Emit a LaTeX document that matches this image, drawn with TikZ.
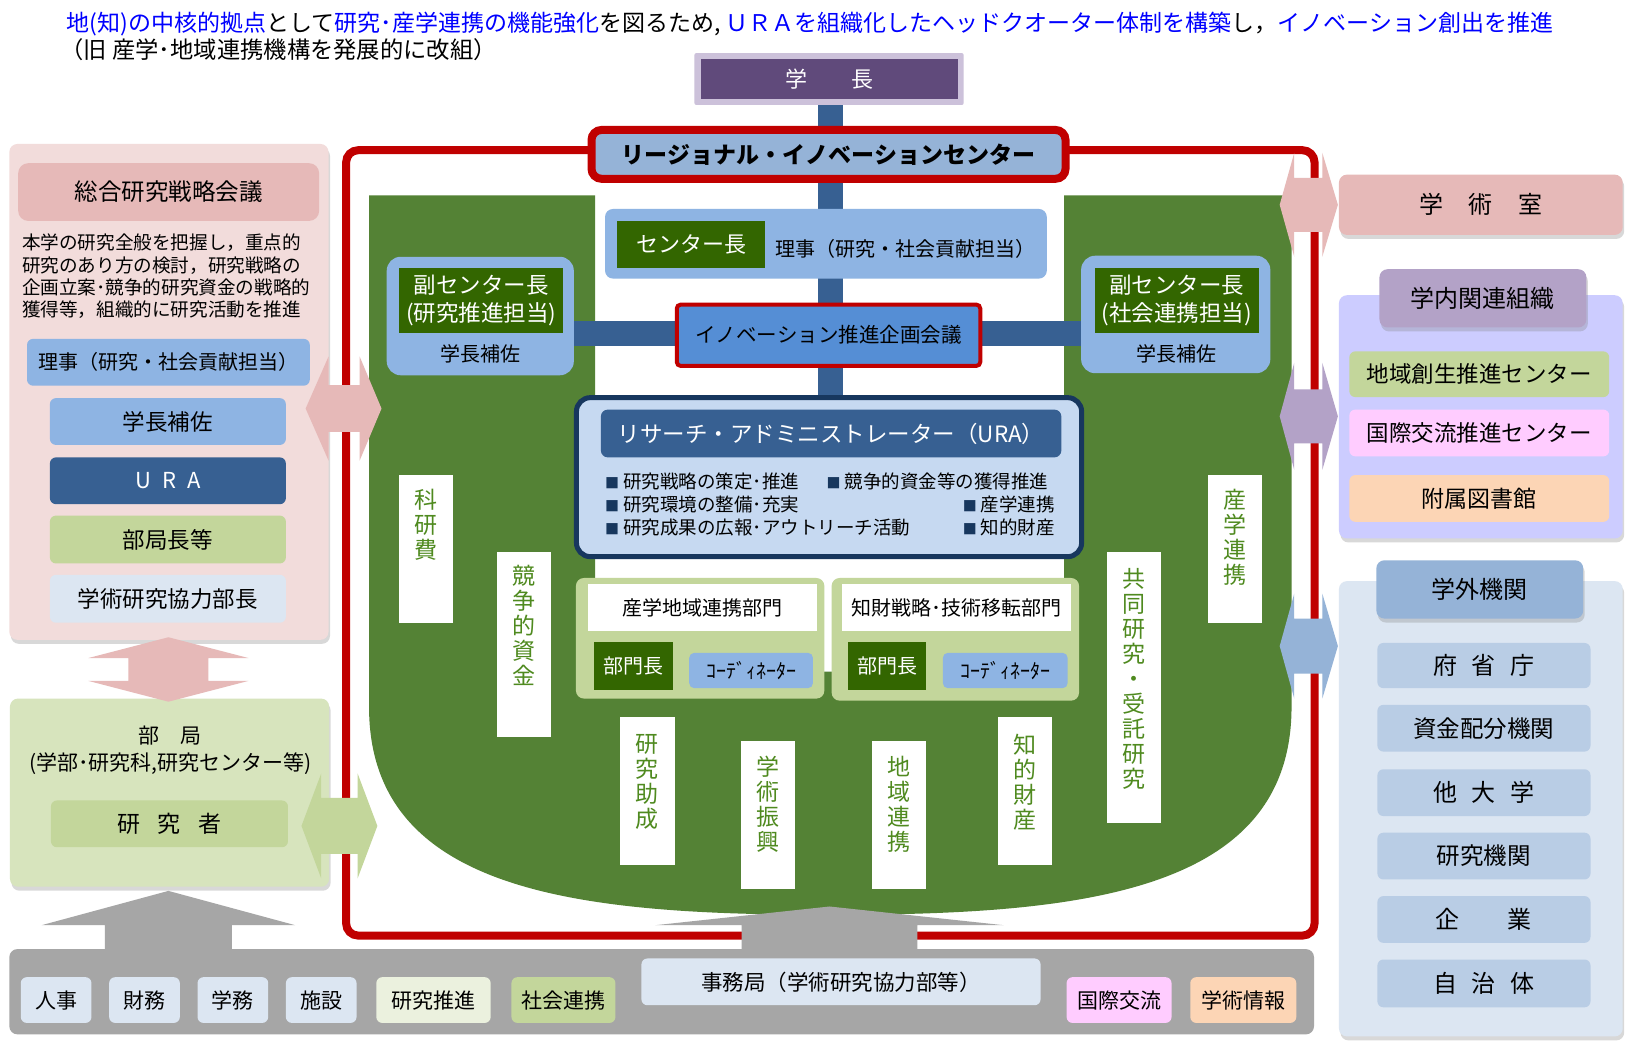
\documentclass[tikz,border=0pt]{standalone}
\usepackage{fontspec}
\setmainfont{Noto Sans CJK JP}
\usetikzlibrary{positioning, shadows}
\definecolor{tblue}{HTML}{0000FF}
\definecolor{lavender}{HTML}{CCC1DA}
\definecolor{presviolet}{HTML}{604A7B}
\definecolor{frred}{HTML}{C00000}
\definecolor{rcfill}{HTML}{95B3D7}
\definecolor{lblue}{HTML}{8EB4E3}
\definecolor{inofill}{HTML}{558ED5}
\definecolor{urafill}{HTML}{C6D9F1}
\definecolor{navy}{HTML}{17375E}
\definecolor{barblue}{HTML}{376092}
\definecolor{dgreen}{HTML}{336600}
\definecolor{ugreen}{HTML}{548235}
\definecolor{labgreen}{HTML}{4F8A1F}
\definecolor{lgreen}{HTML}{C3D69B}
\definecolor{bgreen}{HTML}{D7E4BD}
\definecolor{palegreen}{HTML}{EBF1DE}
\definecolor{pinkpanel}{HTML}{F2DCDB}
\definecolor{pinkhead}{HTML}{E6B9B8}
\definecolor{paleblue}{HTML}{DCE6F2}
\definecolor{midblue}{HTML}{95B3D7}
\definecolor{extitem}{HTML}{B9CDE5}
\definecolor{lilac}{HTML}{CCCCFF}
\definecolor{lilachead}{HTML}{B3A2C7}
\definecolor{pinkcell}{HTML}{FFCCFF}
\definecolor{peach}{HTML}{FCD5B5}
\definecolor{barsgray}{HTML}{A6A6A6}

\newcommand{\fsz}[1]{\fontsize{#1pt}{#1pt}\selectfont}
\newcommand{\hdblarrow}[8]{\fill[#8] (#1,#5) -- (#2,#5-#6) -- (#2,#5-#7) -- (#3,#5-#7) -- (#3,#5-#6) -- (#4,#5) -- (#3,#5+#6) -- (#3,#5+#7) -- (#2,#5+#7) -- (#2,#5+#6) -- cycle;}
\newcommand{\vdblarrow}[8]{\fill[#8] (#5,#1) -- (#5+#6,#2) -- (#5+#7,#2) -- (#5+#7,#3) -- (#5+#6,#3) -- (#5,#4) -- (#5-#6,#3) -- (#5-#7,#3) -- (#5-#7,#2) -- (#5-#6,#2) -- cycle;}
\newcommand{\uparrowbox}[7]{\fill[#7] (#4,#1) -- (#4+#5,#2) -- (#4+#6,#2) -- (#4+#6,#3) -- (#4-#6,#3) -- (#4-#6,#2) -- (#4-#5,#2) -- cycle;}

\tikzset{
  boxat/.style args={#1/#2/#3/#4}{at={({(#1+#3)/2},{(#2+#4)/2})},
    minimum width={(#3-#1)*1.0395pt}, minimum height={(#4-#2)*1.0395pt}},
  panel/.style={rounded corners=8pt, inner sep=0pt, outer sep=0pt},
  softshadow/.style={drop shadow={opacity=0.3, shadow xshift=1.5pt, shadow yshift=-4pt}},
  cell/.style={rounded corners=6pt, inner sep=0pt, font=\fsz{22}},
  flat/.style={inner sep=0pt},
  vbox/.style={fill=white, inner sep=0pt},
  vtxt/.style={text=labgreen, align=center, inner sep=0pt, font=\fontsize{23pt}{25pt}\selectfont},
  bullet/.style={inner sep=0pt, font=\fsz{18.5}}
}
\newcommand{\sq}{{\color{navy}\fsz{14}■}\ }

\begin{document}
\begin{tikzpicture}[x=1.0395pt, y=-1.0395pt]
  \fill[white] (0,0) rectangle (1568,1011);
  \useasboundingbox (0,0) rectangle (1568,1011);

  \node[anchor=west, flat, font=\fsz{23}] (headline) at (64,23)
    {\textcolor{tblue}{地(知)の中核的拠点}として\textcolor{tblue}{研究･産学連携の機能強化}を図るため, \textcolor{tblue}{ＵＲＡを組織化したヘッドクオーター体制を構築}し，\textcolor{tblue}{イノベーション創出を推進}};
  \node[anchor=west, flat, font=\fsz{23.3}] (subline) at (58,48) {（旧 産学･地域連携機構を発展的に改組）};

  \draw[frred, line width=8pt, rounded corners=12pt] (333,144.5) rectangle (1264.5,900);
  \fill[ugreen] (355,188) -- (572.5,188) -- (572.5,646) -- (1023.6,646) -- (1023.6,188) -- (1242.4,188) -- (1242.4,680)
    .. controls (1242.4,860) and (1037.4,880) .. (798.7,880)
    .. controls (560,880) and (355,860) .. (355,680) -- cycle;
  \fill[barblue] (787,100) rectangle (811,382);
  \fill[barblue] (552,309) rectangle (1041,333);

  \node[panel, rounded corners=2pt, fill=lavender, boxat=668/51/927/101] (presframe) {};
  \node[flat, fill=presviolet, text=white, boxat=674/57/921.5/95, font=\fsz{22}] (president) {学　　長};

  \node[flat, fill=rcfill, draw=frred, line width=8pt, rounded corners=10pt, boxat=569/125/1025/172,
        font=\bfseries\fsz{23}] (center) {リージョナル・イノベーションセンター};

  \node[panel, fill=lblue, boxat=582/201/1007/268] (directorbox) {};
  \node[flat, fill=dgreen, text=white, boxat=594/213/736/258, font=\fsz{22}] (director) {センター長};
  \node[anchor=west, flat, font=\fsz{20}] (directorrole) at (746,239) {理事（研究・社会貢献担当）};

  \node[panel, rounded corners=14pt, fill=lblue, boxat=372/247/552/361] (deputyL) {};
  \node[flat, fill=dgreen, text=white, align=center, boxat=384/258/542/320,
        font=\fontsize{22.5pt}{28pt}\selectfont] (deputyLhead) {副センター長\\(研究推進担当)};
  \node[flat, font=\fsz{20}] (deputyLrole) at (462,340) {学長補佐};

  \node[panel, rounded corners=14pt, fill=lblue, boxat=1040/246/1222/359] (deputyR) {};
  \node[flat, fill=dgreen, text=white, align=center, boxat=1053/258/1211/320,
        font=\fontsize{22.5pt}{28pt}\selectfont] (deputyRhead) {副センター長\\(社会連携担当)};
  \node[flat, font=\fsz{20}] (deputyRrole) at (1132,340) {学長補佐};

  \node[flat, fill=inofill, draw=frred, line width=4pt, rounded corners=4pt, boxat=651/293/943/352,
        font=\fsz{20.5}] (planning) {イノベーション推進企画会議};

  \node[flat, fill=urafill, draw=navy, line width=5pt, rounded corners=14pt, boxat=554.5/382.5/1040.5/535.5] (ura) {};
  \node[flat, fill=barblue, rounded corners=7pt, text=white, boxat=578/394/1021/440, font=\fsz{22.5}] (urahead)
    {リサーチ・アドミニストレーター（URA）};
  \node[bullet, anchor=west] (task1) at (582,463) {\sq 研究戦略の策定･推進};
  \node[bullet, anchor=west] (task2) at (795,463) {\sq 競争的資金等の獲得推進};
  \node[bullet, anchor=west] (task3) at (582,485) {\sq 研究環境の整備･充実};
  \node[bullet, anchor=east] (task4) at (1015,485) {\sq 産学連携};
  \node[bullet, anchor=west] (task5) at (582,507) {\sq 研究成果の広報･アウトリーチ活動};
  \node[bullet, anchor=east] (task6) at (1015,507) {\sq 知的財産};

  \node[panel, fill=lgreen, boxat=554/556/793/672] (deptA) {};
  \node[flat, fill=white, boxat=566/562/786/607, font=\fsz{20}] (deptAname) {産学地域連携部門};
  \node[flat, fill=dgreen, text=white, boxat=571/618/647/664, font=\fsz{20}] (deptAhead) {部門長};
  \node[cell, rounded corners=5pt, fill=lblue, boxat=663/628/782/662, font=\fsz{20}] (deptAcoord) {ｺｰﾃﾞｨﾈｰﾀｰ};

  \node[panel, fill=lgreen, boxat=800/556/1038/674] (deptB) {};
  \node[flat, fill=white, boxat=810/562/1030/607, font=\fsz{20}] (deptBname) {知財戦略･技術移転部門};
  \node[flat, fill=dgreen, text=white, boxat=816/618/891/664, font=\fsz{20}] (deptBhead) {部門長};
  \node[cell, rounded corners=5pt, fill=lblue, boxat=907/628/1027/662, font=\fsz{20}] (deptBcoord) {ｺｰﾃﾞｨﾈｰﾀｰ};

  \node[vbox, boxat=384/457/436/599] (kaken) {};
  \node[vtxt, below=14pt of kaken.north] (kakentxt) {科\\研\\費};
  \node[vbox, boxat=478/531/530/709] (kyoso) {};
  \node[vtxt, below=13pt of kyoso.north] (kyosotxt) {競\\争\\的\\資\\金};
  \node[vbox, boxat=596/690/649/832] (josei) {};
  \node[vtxt, below=17pt of josei.north] (joseitxt) {研\\究\\助\\成};
  \node[vbox, boxat=713/713/765/855] (shinko) {};
  \node[vtxt, below=15pt of shinko.north] (shinkotxt) {学\\術\\振\\興};
  \node[vbox, boxat=839/713/891/855] (chiiki) {};
  \node[vtxt, below=15pt of chiiki.north] (chiikitxt) {地\\域\\連\\携};
  \node[vbox, boxat=960/690/1012/832] (chizai) {};
  \node[vtxt, below=17pt of chizai.north] (chizaitxt) {知\\的\\財\\産};
  \node[vbox, boxat=1065/531/1117/792] (kyodo) {};
  \node[vtxt, below=16pt of kyodo.north] (kyodotxt) {共\\同\\研\\究\\・\\受\\託\\研\\究};
  \node[vbox, boxat=1162/457/1214/599] (sangaku) {};
  \node[vtxt, below=14pt of sangaku.north] (sangakutxt) {産\\学\\連\\携};

  \node[panel, fill=pinkpanel, softshadow, boxat=9/138.5/316/615.5] (council) {};
  \node[panel, rounded corners=10pt, fill=pinkhead, boxat=17.5/157/307/212.5, font=\fsz{23.5}] (councilhead) {総合研究戦略会議};
  \node[anchor=north west, align=left, flat, font=\fontsize{18.6pt}{22.2pt}\selectfont] (councildesc) at (21,225)
    {本学の研究全般を把握し，重点的\\研究のあり方の検討，研究戦略の\\企画立案･競争的研究資金の戦略的\\獲得等，組織的に研究活動を推進};
  \node[cell, fill=lblue, boxat=26/326/298/371, font=\fsz{20}] (cexec) {理事（研究・社会貢献担当）};
  \node[cell, fill=lblue, boxat=48/383/275/428, font=\fsz{22.5}] (cassist) {学長補佐};
  \node[cell, fill=barblue, text=white, boxat=48/440/275/485, font=\fsz{22}] (cura) {U\hspace{0.5em}R\hspace{0.5em}A};
  \node[cell, fill=lgreen, boxat=48/496/275/542, font=\fsz{22.5}] (cdeans) {部局長等};
  \node[cell, fill=paleblue, boxat=48/553/275/599, font=\fsz{22.5}] (ccoop) {学術研究協力部長};

  \node[panel, fill=bgreen, softshadow, boxat=9.6/672/316.6/853] (faculty) {};
  \node[flat, align=center, font=\fontsize{21pt}{27pt}\selectfont] (facultytxt) at (164,722) {部　局\\(学部･研究科,研究センター等)};
  \node[cell, fill=lgreen, boxat=49/770/277/815, font=\fsz{23}] (researcher) {研\hspace{0.75em}究\hspace{0.75em}者};

  \node[panel, fill=pinkhead, softshadow, boxat=1288/168/1561/226, font=\fsz{24}] (office) {学\hspace{1.05em}術\hspace{1.05em}室};

  \node[panel, fill=lilac, softshadow, boxat=1288/284/1561/518] (internal) {};
  \node[panel, fill=lilachead, softshadow, boxat=1327/259/1526/315, font=\fsz{24}] (internalhead) {学内関連組織};
  \node[cell, fill=lgreen, boxat=1298/338/1548/382, font=\fsz{22.5}] (revital) {地域創生推進センター};
  \node[cell, fill=pinkcell, boxat=1298/394/1548/439, font=\fsz{22.5}] (intlcenter) {国際交流推進センター};
  \node[cell, fill=peach, boxat=1298/457/1548/502, font=\fsz{23}] (library) {附属図書館};

  \node[panel, fill=paleblue, softshadow, boxat=1288/559/1561/997] (external) {};
  \node[panel, fill=midblue, softshadow, boxat=1324/539/1523/595, font=\fsz{24}] (externalhead) {学外機関};
  \node[cell, fill=extitem, boxat=1325/618.5/1530/662, font=\fsz{24}] (ministry) {府\hspace{0.6em}省\hspace{0.6em}庁};
  \node[cell, fill=extitem, boxat=1325/678/1530/723, font=\fsz{23.5}] (funding) {資金配分機関};
  \node[cell, fill=extitem, boxat=1325/740/1530/785, font=\fsz{24}] (otheruniv) {他\hspace{0.6em}大\hspace{0.6em}学};
  \node[cell, fill=extitem, boxat=1325/801/1530/846, font=\fsz{23.5}] (institute) {研究機関};
  \node[cell, fill=extitem, boxat=1325/862/1530/907, font=\fsz{24}] (company) {企　　業};
  \node[cell, fill=extitem, boxat=1325/923/1530/969, font=\fsz{24}] (localgov) {自\hspace{0.6em}治\hspace{0.6em}体};

  \node[panel, fill=barsgray, boxat=9/913/1264/995] (admin) {};
  \node[cell, fill=paleblue, boxat=20/940/88/984, font=\fsz{21}] (personnel) {人事};
  \node[cell, fill=paleblue, boxat=105/940/173/984, font=\fsz{21}] (finance) {財務};
  \node[cell, fill=paleblue, boxat=190/940/258/984, font=\fsz{21}] (student) {学務};
  \node[cell, fill=paleblue, boxat=275/940/343/984, font=\fsz{21}] (facility) {施設};
  \node[cell, fill=palegreen, boxat=362/940/472/984, font=\fsz{21}] (promo) {研究推進};
  \node[cell, fill=lgreen, boxat=492/940/592/984, font=\fsz{21}] (social) {社会連携};
  \node[cell, fill=paleblue, boxat=617/922/1001/967, font=\fsz{21.5}] (secretariat) {事務局（学術研究協力部等）};
  \node[cell, fill=pinkcell, boxat=1026/940/1127/984, font=\fsz{21}] (intl) {国際交流};
  \node[cell, fill=peach, boxat=1145/940/1247/984, font=\fsz{21}] (info) {学術情報};

  \hdblarrow{294}{316}{346}{367}{393}{50}{22.5}{pinkhead}
  \hdblarrow{290}{309}{344}{363}{794.5}{50.5}{27}{lgreen}
  \hdblarrow{1231}{1245}{1272}{1287}{197}{50}{26}{pinkhead}
  \hdblarrow{1231}{1245}{1272}{1287}{400.5}{51.5}{26}{lilachead}
  \hdblarrow{1231}{1245}{1272}{1287}{621.5}{50.5}{26.5}{midblue}
  \vdblarrow{613}{633}{655}{675}{162}{77}{38.5}{pinkhead}
  \uparrowbox{857}{890}{913}{162}{122}{61}{barsgray}
  \uparrowbox{872}{890}{913}{798}{167.5}{84.5}{barsgray}
\end{tikzpicture}
\end{document}
